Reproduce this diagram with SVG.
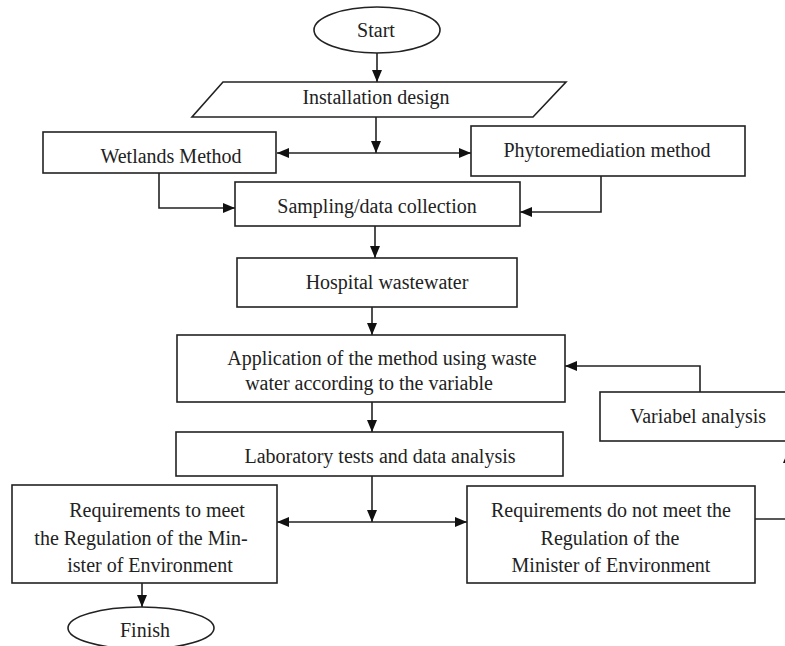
<svg xmlns="http://www.w3.org/2000/svg" width="785" height="646" viewBox="0 0 785 646">
<style>
.box{fill:#fff;stroke:#222;stroke-width:1.6}
.t{font-family:"Liberation Serif","Times New Roman",serif;font-size:20px;fill:#222;text-anchor:middle}
.c{fill:none;stroke:#222;stroke-width:1.6}
</style>
<defs>
<marker id="ah" markerUnits="userSpaceOnUse" markerWidth="12" markerHeight="10" refX="12" refY="5" orient="auto">
<path d="M0,0 L12,5 L0,10 z" fill="#111"/>
</marker>
</defs>
<rect width="785" height="646" fill="#fff"/>
<g id="connectors">
<path class="c" d="M377,53 V82" marker-end="url(#ah)"/>
<path class="c" d="M376,117 V153" marker-end="url(#ah)"/>
<path class="c" d="M376,153 H277" marker-end="url(#ah)"/>
<path class="c" d="M376,153 H471" marker-end="url(#ah)"/>
<path class="c" d="M159,173 V208 H235" marker-end="url(#ah)"/>
<path class="c" d="M601,176 V212 H520" marker-end="url(#ah)"/>
<path class="c" d="M375,226 V258" marker-end="url(#ah)"/>
<path class="c" d="M372,307 V335" marker-end="url(#ah)"/>
<path class="c" d="M700,392 V366 H565" marker-end="url(#ah)"/>
<path class="c" d="M372,402 V432" marker-end="url(#ah)"/>
<path class="c" d="M372,476 V522" marker-end="url(#ah)"/>
<path class="c" d="M372,522 H277" marker-end="url(#ah)"/>
<path class="c" d="M372,522 H467" marker-end="url(#ah)"/>
<path class="c" d="M142,583 V607" marker-end="url(#ah)"/>
<path class="c" d="M755,519 H788 V451" marker-end="url(#ah)"/>
</g>
<g id="start">
<ellipse class="box" cx="377" cy="30" rx="63" ry="23"/>
<text class="t" x="376" y="37">Start</text>
</g>
<g id="installation">
<polygon class="box" points="223,82 566,82 533,117 192,117"/>
<text class="t" x="376" y="104">Installation design</text>
</g>
<g id="wetlands">
<rect class="box" x="43" y="132" width="233" height="41"/>
<text class="t" x="171" y="163">Wetlands Method</text>
</g>
<g id="phyto">
<rect class="box" x="471" y="126" width="274" height="50"/>
<text class="t" x="607" y="157">Phytoremediation method</text>
</g>
<g id="sampling">
<rect class="box" x="235" y="182" width="285" height="44"/>
<text class="t" x="377" y="213">Sampling/data collection</text>
</g>
<g id="hospital">
<rect class="box" x="237" y="258" width="280" height="49"/>
<text class="t" x="387" y="289">Hospital wastewater</text>
</g>
<g id="application">
<rect class="box" x="177" y="335" width="388" height="67"/>
<text class="t" x="382" y="365">Application of the method using waste</text>
<text class="t" x="369" y="390">water according to the variable</text>
</g>
<g id="variabel">
<rect class="box" x="600" y="392" width="200" height="49"/>
<text class="t" x="698" y="423">Variabel analysis</text>
</g>
<g id="laboratory">
<rect class="box" x="176" y="432" width="387" height="44"/>
<text class="t" x="380" y="463">Laboratory tests and data analysis</text>
</g>
<g id="meet">
<rect class="box" x="12" y="485" width="265" height="98"/>
<text class="t" x="157" y="517">Requirements to meet</text>
<text class="t" x="141" y="545">the Regulation of the Min-</text>
<text class="t" x="150" y="572">ister of Environment</text>
</g>
<g id="notmeet">
<rect class="box" x="467" y="486" width="288" height="97"/>
<text class="t" x="611" y="517">Requirements do not meet the</text>
<text class="t" x="610" y="545">Regulation of the</text>
<text class="t" x="611" y="572">Minister of Environment</text>
</g>
<g id="finish">
<ellipse class="box" cx="141" cy="628" rx="73" ry="21"/>
<text class="t" x="145" y="637">Finish</text>
</g>
</svg>
